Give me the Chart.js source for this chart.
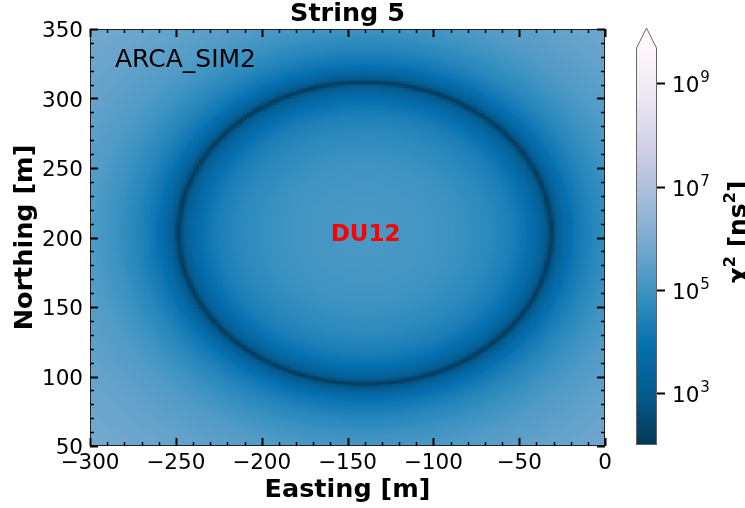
<!DOCTYPE html>
<html>
<head>
<meta charset="utf-8">
<script src="https://cdn.jsdelivr.net/npm/chart.js@4.4.0/dist/chart.umd.min.js"></script>
<style>
  html, body { margin: 0; padding: 0; background: #fff; }
  canvas { display: block; }
</style>
</head>
<body>
<canvas id="chart" width="745" height="508"></canvas>
<script>
// ==================
// Data
// ==================
const xTicks = [-300, -250, -200, -150, -100, -50, 0];
const yTicks = [50, 100, 150, 200, 250, 300, 350];
const cbExponents = [3, 5, 7, 9];          // colorbar ticks, 10^n
const cbLogRange = [2, 9.68];              // log10 chi2 at colorbar bottom / top
const stringPos = [-139.5, 203.5];         // DU12 (easting, northing)
// chi2 (log10) against distance from DU12 in metres
const ringDist =    [0,   30,   50,  70,   85,   95,   100, 104.5, 106.5, 108,  109,  110.5, 112.5, 116.5, 122.5, 132.5, 145,  160, 185, 210, 240];
const ringLogChi2 = [5.2, 5.12, 5.0, 4.72, 4.38, 3.95, 3.6, 3.15,  2.75,  2.2,  2.2,  2.75,  3.15,  3.65,  4.1,   4.55,  4.95, 5.3, 5.6, 5.8, 5.95];

const FONT = "'DejaVu Sans', sans-serif";

// PuBu reversed
const pubuR = ["#023858", "#045a8d", "#0570b0", "#3690c0", "#74a9cf", "#a6bddb", "#d0d1e6", "#ece7f2", "#fff7fb"];
const pubuRgb = pubuR.map(h => [1, 3, 5].map(i => parseInt(h.substr(i, 2), 16)));

function colorFor(logv) {
  let t = (logv - cbLogRange[0]) / (cbLogRange[1] - cbLogRange[0]);
  t = Math.max(0, Math.min(1, t)) * (pubuRgb.length - 1);
  const i = Math.min(Math.floor(t), pubuRgb.length - 2);
  const f = t - i;
  const a = pubuRgb[i], b = pubuRgb[i + 1];
  return "rgb(" + a.map((v, k) => Math.round(v + (b[k] - v) * f)).join(",") + ")";
}

function profileAt(d) {
  if (d >= ringDist[ringDist.length - 1]) return ringLogChi2[ringLogChi2.length - 1];
  let i = 0;
  while (ringDist[i + 1] < d) i++;
  const f = (d - ringDist[i]) / (ringDist[i + 1] - ringDist[i]);
  return ringLogChi2[i] + (ringLogChi2[i + 1] - ringLogChi2[i]) * f;
}

// cells of the map, 1 m wide
const cellSize = 1;
const cells = [];
for (let x = xTicks[0]; x < xTicks[xTicks.length - 1]; x += cellSize) {
  for (let y = yTicks[0]; y < yTicks[yTicks.length - 1]; y += cellSize) {
    const d = Math.hypot(x + cellSize / 2 - stringPos[0], y + cellSize / 2 - stringPos[1]);
    cells.push({ x: x, y: y, c: colorFor(profileAt(d)) });
  }
}

// ==================
// Drawing helpers
// ==================
function drawPow(ctx, x, y, exp, size) {
  const sup = Math.round(size * 0.7);
  ctx.font = size + "px " + FONT;
  const w1 = ctx.measureText("10").width;
  ctx.textAlign = "left";
  ctx.fillText("10", x, y);
  ctx.font = sup + "px " + FONT;
  ctx.fillText(String(exp), x + w1 + 1, y - size * 0.42);
}

const heatmapPlugin = {
  id: "heatmap",
  beforeDatasetsDraw(chart) {
    const ctx = chart.ctx, xs = chart.scales.x, ys = chart.scales.y, a = chart.chartArea;
    ctx.save();
    ctx.beginPath();
    ctx.rect(a.left, a.top, a.right - a.left, a.bottom - a.top);
    ctx.clip();
    cells.forEach(cell => {
      const x0 = Math.floor(xs.getPixelForValue(cell.x));
      const x1 = Math.ceil(xs.getPixelForValue(cell.x + cellSize));
      const y0 = Math.floor(ys.getPixelForValue(cell.y + cellSize));
      const y1 = Math.ceil(ys.getPixelForValue(cell.y));
      ctx.fillStyle = cell.c;
      ctx.fillRect(x0, y0, x1 - x0, y1 - y0);
    });
    ctx.restore();
  }
};

const decorPlugin = {
  id: "decor",
  afterDraw(chart) {
    const ctx = chart.ctx, xs = chart.scales.x, ys = chart.scales.y, a = chart.chartArea;
    ctx.save();

    // annotations
    ctx.fillStyle = "#000";
    ctx.font = "25px " + FONT;
    ctx.textAlign = "left";
    ctx.textBaseline = "alphabetic";
    ctx.fillText("ARCA_SIM2", 115, 67);

    ctx.fillStyle = "#ff0000";
    ctx.font = "bold 23px " + FONT;
    ctx.textAlign = "center";
    ctx.textBaseline = "alphabetic";
    ctx.fillText("DU12", xs.getPixelForValue(stringPos[0]), 241);

    // frame
    ctx.strokeStyle = "#222";
    ctx.lineWidth = 1;
    ctx.strokeRect(a.left + 0.5, a.top + 0.5, a.right - a.left - 1, a.bottom - a.top - 1);

    // ticks, inward on all sides
    ctx.strokeStyle = "#000";
    for (let v = xs.min; v <= xs.max; v += 10) {
      const major = xTicks.includes(v);
      const px = Math.round(xs.getPixelForValue(v)) + 0.5;
      const len = major ? 8 : 4;
      ctx.lineWidth = major ? 2 : 1.5;
      ctx.beginPath();
      ctx.moveTo(px, a.bottom); ctx.lineTo(px, a.bottom - len);
      ctx.moveTo(px, a.top); ctx.lineTo(px, a.top + len);
      ctx.stroke();
    }
    for (let v = ys.min; v <= ys.max; v += 10) {
      const major = yTicks.includes(v);
      const py = Math.round(ys.getPixelForValue(v)) + 0.5;
      const len = major ? 8 : 4;
      ctx.lineWidth = major ? 2 : 1.5;
      ctx.beginPath();
      ctx.moveTo(a.left, py); ctx.lineTo(a.left + len, py);
      ctx.moveTo(a.right, py); ctx.lineTo(a.right - len, py);
      ctx.stroke();
    }

    // tick labels
    ctx.fillStyle = "#000";
    ctx.font = "21.5px " + FONT;
    ctx.textBaseline = "alphabetic";
    ctx.textAlign = "center";
    xTicks.forEach(v => {
      const s = v < 0 ? "\u2212" + Math.abs(v) : String(v);
      ctx.fillText(s, xs.getPixelForValue(v), a.bottom + 23);
    });
    ctx.textAlign = "right";
    yTicks.forEach(v => {
      ctx.fillText(String(v), a.left - 7, ys.getPixelForValue(v) + 8);
    });

    // axis titles
    ctx.font = "bold 25.5px " + FONT;
    ctx.textAlign = "center";
    ctx.fillText("String 5", (a.left + a.right) / 2, 21);
    ctx.fillText("Easting [m]", (a.left + a.right) / 2, 497);
    ctx.save();
    ctx.translate(32, (a.top + a.bottom) / 2);
    ctx.rotate(-Math.PI / 2);
    ctx.fillText("Northing [m]", 0, 0);
    ctx.restore();

    // colorbar
    const cbL = 636, cbR = 657, cbTop = 48, cbBot = 445, tip = 28;
    const cbY = lv => cbBot - (lv - cbLogRange[0]) / (cbLogRange[1] - cbLogRange[0]) * (cbBot - cbTop);
    for (let py = cbTop; py < cbBot; py++) {
      const lv = cbLogRange[0] + (cbBot - py - 0.5) / (cbBot - cbTop) * (cbLogRange[1] - cbLogRange[0]);
      ctx.fillStyle = colorFor(lv);
      ctx.fillRect(cbL, py, cbR - cbL, 1);
    }
    ctx.fillStyle = pubuR[pubuR.length - 1];
    ctx.beginPath();
    ctx.moveTo(cbL, cbTop + 0.5);
    ctx.lineTo((cbL + cbR) / 2, tip);
    ctx.lineTo(cbR, cbTop + 0.5);
    ctx.closePath();
    ctx.fill();
    ctx.strokeStyle = "#666";
    ctx.lineWidth = 1;
    ctx.beginPath();
    ctx.moveTo(cbL + 0.5, cbBot - 0.5);
    ctx.lineTo(cbL + 0.5, cbTop);
    ctx.lineTo((cbL + cbR) / 2, tip);
    ctx.lineTo(cbR - 0.5, cbTop);
    ctx.lineTo(cbR - 0.5, cbBot - 0.5);
    ctx.closePath();
    ctx.stroke();

    ctx.strokeStyle = "#000";
    ctx.fillStyle = "#000";
    cbExponents.forEach(e => {
      const py = Math.round(cbY(e)) + 0.5;
      ctx.lineWidth = 2;
      ctx.beginPath();
      ctx.moveTo(cbR, py); ctx.lineTo(cbR + 8, py);
      ctx.stroke();
      drawPow(ctx, 672, py + 8, e, 21.5);
    });

    // colorbar label: chi^2 [ns^2]
    ctx.save();
    ctx.translate(746, 232);
    ctx.rotate(-Math.PI / 2);
    const big = "bold 25px " + FONT, sup = "bold 16px " + FONT;
    const parts = [["\u03c7", big, 0], ["2", sup, -11], [" [ns", big, 0], ["2", sup, -11], ["]", big, 0]];
    let total = 0;
    parts.forEach(p => { ctx.font = p[1]; total += ctx.measureText(p[0]).width; });
    let cx = -total / 2;
    ctx.textAlign = "left";
    parts.forEach(p => {
      ctx.font = p[1];
      ctx.fillText(p[0], cx, p[2]);
      cx += ctx.measureText(p[0]).width;
    });
    ctx.restore();

    ctx.restore();
  }
};

new Chart(document.getElementById("chart"), {
  type: "scatter",
  data: {
    datasets: [{
      label: "chi2",
      data: cells.map(c => ({ x: c.x, y: c.y })),
      pointRadius: 0,
      pointHoverRadius: 0
    }]
  },
  options: {
    responsive: false,
    animation: false,
    devicePixelRatio: 1,
    events: [],
    layout: { padding: { left: 90, right: 140, top: 29, bottom: 62 } },
    plugins: { legend: { display: false }, tooltip: { enabled: false }, title: { display: false } },
    scales: {
      x: { type: "linear", min: -300, max: 0, display: false },
      y: { type: "linear", min: 50, max: 350, display: false }
    }
  },
  plugins: [heatmapPlugin, decorPlugin]
});
</script>
</body>
</html>
